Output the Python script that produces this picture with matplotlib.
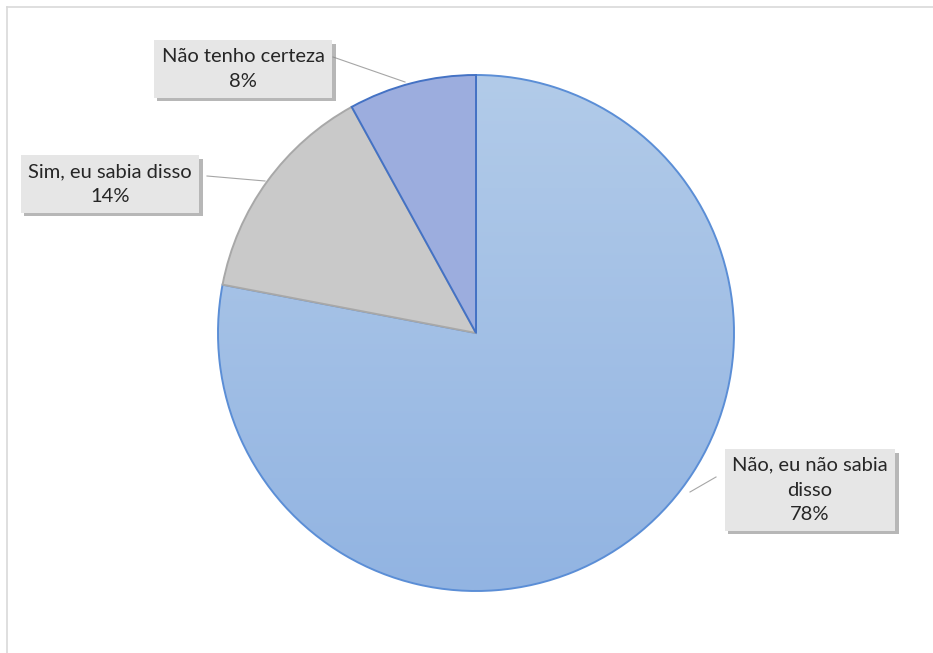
import numpy as np
import matplotlib
matplotlib.use('Agg')
import matplotlib.pyplot as plt
import matplotlib.patheffects as pe

labels = ['Não, eu não sabia\ndisso', 'Sim, eu sabia disso', 'Não tenho certeza']
values = [78, 14, 8]
colors = ['#a3c0e6', '#c9c9c9', '#9cadde']
edges = ['#5b8ed6', '#a8a8a8', '#4472c4']

plt.rcParams['font.family'] = ['Lato', 'DejaVu Sans']

fig = plt.figure(figsize=(9.33, 6.53), dpi=100)
ax = fig.add_axes([0, 0, 1, 1])

# chart frame
ax.plot([7, 933], [646, 646], color='#d9d9d9', lw=1.2)
ax.plot([7, 7], [0, 646], color='#d9d9d9', lw=1.2)

cx, cy, r = 476, 320, 258
wedges, _ = ax.pie(values, colors=colors, startangle=90, counterclock=False,
                   center=(cx, cy), radius=r, frame=True,
                   wedgeprops=dict(linewidth=1.4))
for w, ec in zip(wedges, edges):
    w.set_edgecolor(ec)
wedges[0].set_facecolor('none')

# vertical gradient on the big slice, behind the slice outlines
grad = np.linspace(0, 1, 256).reshape(-1, 1)
cmap = matplotlib.colors.LinearSegmentedColormap.from_list('g', ['#b2cbe9', '#92b4e2'])
im = ax.imshow(grad, cmap=cmap, extent=(cx - r, cx + r, cy - r, cy + r),
               origin='upper', aspect='auto', zorder=wedges[0].get_zorder() - 0.5)
im.set_clip_path(wedges[0])

ax.set_xlim(0, 933)
ax.set_ylim(0, 653)
ax.set_aspect('auto')
ax.axis('off')

# labels with leader lines
lab_pos = [(810, 163), (110, 469), (243, 584)]
lines = [[(716, 176), (690, 161)], [(207, 477), (265, 472)], [(333, 596), (405, 571)]]
for i in range(3):
    txt = labels[i] + '\n' + f'{values[i]}%'
    t = ax.text(lab_pos[i][0], lab_pos[i][1], txt, ha='center', va='center',
                fontsize=14.5, color='#262626', linespacing=1.55, zorder=10,
                bbox=dict(boxstyle='square,pad=0.38', fc='#e6e6e6', ec='none'))
    t.get_bbox_patch().set_path_effects([pe.withSimplePatchShadow(offset=(2.5, -2.5), shadow_rgbFace='#888888', alpha=0.6), pe.Normal()])
    xs, ys = zip(*lines[i])
    ax.plot(xs, ys, color='#a6a6a6', lw=0.8, zorder=9)

fig.savefig('out.png', dpi=100)
